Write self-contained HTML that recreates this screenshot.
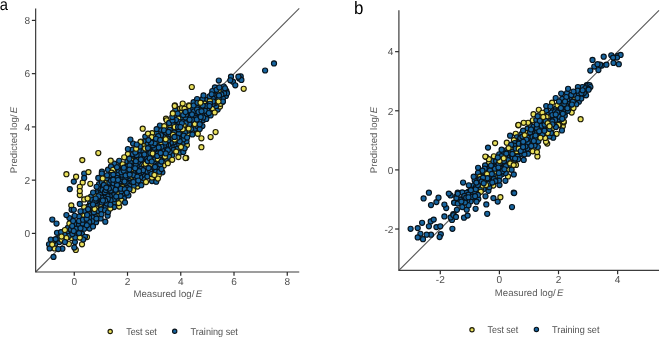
<!DOCTYPE html><html><head><meta charset="utf-8"><style>
html,body{margin:0;padding:0;background:#fff;width:660px;height:337px;overflow:hidden}
svg{display:block;will-change:transform} text{font-family:"Liberation Sans", sans-serif;fill:#505050;text-rendering:geometricPrecision} .tk{font-size:10.1px} .ti{font-size:9.6px;fill:#5a5a5a} .lg{font-size:9.9px}
.b{fill:#1765a0;stroke:#08121a;stroke-width:1.15} .y{fill:#e9e05c;stroke:#1e1c08;stroke-width:1.15}
</style></head><body>
<svg width="660" height="337" viewBox="0 0 660 337">
<rect width="660" height="337" fill="#fff"/>
<line x1="35.65" y1="272.01" x2="299.24" y2="8.42" stroke="#555" stroke-width="1.1"/>
<g>
<circle cx="152.0" cy="181.0" r="2.55" class="b"/>
<circle cx="203.9" cy="112.7" r="2.55" class="b"/>
<circle cx="172.0" cy="130.6" r="2.55" class="b"/>
<circle cx="178.4" cy="124.5" r="2.55" class="b"/>
<circle cx="186.9" cy="145.1" r="2.55" class="y"/>
<circle cx="99.1" cy="207.8" r="2.55" class="b"/>
<circle cx="115.7" cy="171.6" r="2.55" class="b"/>
<circle cx="90.3" cy="183.8" r="2.55" class="y"/>
<circle cx="142.5" cy="157.3" r="2.55" class="b"/>
<circle cx="108.7" cy="192.8" r="2.55" class="b"/>
<circle cx="134.8" cy="166.0" r="2.55" class="b"/>
<circle cx="194.5" cy="119.7" r="2.55" class="b"/>
<circle cx="71.6" cy="238.0" r="2.55" class="y"/>
<circle cx="90.4" cy="209.1" r="2.55" class="b"/>
<circle cx="90.1" cy="203.1" r="2.55" class="b"/>
<circle cx="215.0" cy="93.0" r="2.55" class="b"/>
<circle cx="110.8" cy="193.5" r="2.55" class="b"/>
<circle cx="55.3" cy="244.0" r="2.55" class="b"/>
<circle cx="215.1" cy="97.8" r="2.55" class="b"/>
<circle cx="139.7" cy="166.8" r="2.55" class="y"/>
<circle cx="121.2" cy="183.7" r="2.55" class="y"/>
<circle cx="119.2" cy="160.8" r="2.55" class="b"/>
<circle cx="137.4" cy="167.1" r="2.55" class="b"/>
<circle cx="97.0" cy="214.6" r="2.55" class="y"/>
<circle cx="163.3" cy="133.0" r="2.55" class="b"/>
<circle cx="88.1" cy="206.6" r="2.55" class="b"/>
<circle cx="104.1" cy="202.8" r="2.55" class="b"/>
<circle cx="95.1" cy="204.6" r="2.55" class="b"/>
<circle cx="208.2" cy="102.5" r="2.55" class="b"/>
<circle cx="141.8" cy="161.9" r="2.55" class="y"/>
<circle cx="130.3" cy="180.9" r="2.55" class="b"/>
<circle cx="223.8" cy="86.5" r="2.55" class="b"/>
<circle cx="138.3" cy="165.0" r="2.55" class="b"/>
<circle cx="82.0" cy="233.9" r="2.55" class="b"/>
<circle cx="179.7" cy="137.0" r="2.55" class="b"/>
<circle cx="172.1" cy="155.2" r="2.55" class="b"/>
<circle cx="202.4" cy="108.7" r="2.55" class="b"/>
<circle cx="172.4" cy="145.7" r="2.55" class="b"/>
<circle cx="224.7" cy="95.4" r="2.55" class="b"/>
<circle cx="128.0" cy="179.7" r="2.55" class="b"/>
<circle cx="91.8" cy="213.9" r="2.55" class="b"/>
<circle cx="220.9" cy="100.3" r="2.55" class="b"/>
<circle cx="157.1" cy="162.4" r="2.55" class="b"/>
<circle cx="175.8" cy="135.2" r="2.55" class="y"/>
<circle cx="133.2" cy="178.9" r="2.55" class="b"/>
<circle cx="90.5" cy="211.9" r="2.55" class="b"/>
<circle cx="209.8" cy="109.5" r="2.55" class="b"/>
<circle cx="203.3" cy="119.9" r="2.55" class="b"/>
<circle cx="181.7" cy="131.7" r="2.55" class="b"/>
<circle cx="96.7" cy="209.1" r="2.55" class="b"/>
<circle cx="156.5" cy="133.1" r="2.55" class="b"/>
<circle cx="98.0" cy="190.1" r="2.55" class="b"/>
<circle cx="132.4" cy="165.1" r="2.55" class="b"/>
<circle cx="91.0" cy="196.5" r="2.55" class="b"/>
<circle cx="176.7" cy="142.0" r="2.55" class="b"/>
<circle cx="153.4" cy="157.3" r="2.55" class="b"/>
<circle cx="141.5" cy="164.7" r="2.55" class="b"/>
<circle cx="146.0" cy="152.6" r="2.55" class="b"/>
<circle cx="146.0" cy="156.7" r="2.55" class="b"/>
<circle cx="175.4" cy="129.5" r="2.55" class="b"/>
<circle cx="140.4" cy="153.3" r="2.55" class="b"/>
<circle cx="84.2" cy="207.3" r="2.55" class="y"/>
<circle cx="103.1" cy="193.9" r="2.55" class="b"/>
<circle cx="166.6" cy="159.3" r="2.55" class="b"/>
<circle cx="201.4" cy="138.3" r="2.55" class="y"/>
<circle cx="174.9" cy="105.4" r="2.55" class="y"/>
<circle cx="108.0" cy="169.7" r="2.55" class="b"/>
<circle cx="204.3" cy="102.7" r="2.55" class="y"/>
<circle cx="98.6" cy="198.7" r="2.55" class="b"/>
<circle cx="62.4" cy="248.7" r="2.55" class="b"/>
<circle cx="176.5" cy="122.6" r="2.55" class="b"/>
<circle cx="216.8" cy="94.8" r="2.55" class="y"/>
<circle cx="222.4" cy="90.7" r="2.55" class="b"/>
<circle cx="188.1" cy="133.6" r="2.55" class="y"/>
<circle cx="217.7" cy="109.6" r="2.55" class="b"/>
<circle cx="188.9" cy="105.3" r="2.55" class="y"/>
<circle cx="206.9" cy="99.9" r="2.55" class="b"/>
<circle cx="180.0" cy="108.7" r="2.55" class="y"/>
<circle cx="175.9" cy="116.8" r="2.55" class="b"/>
<circle cx="148.1" cy="150.9" r="2.55" class="b"/>
<circle cx="187.9" cy="122.3" r="2.55" class="b"/>
<circle cx="67.2" cy="233.1" r="2.55" class="b"/>
<circle cx="79.8" cy="195.0" r="2.55" class="y"/>
<circle cx="158.9" cy="143.2" r="2.55" class="b"/>
<circle cx="144.0" cy="165.8" r="2.55" class="y"/>
<circle cx="147.3" cy="165.6" r="2.55" class="b"/>
<circle cx="226.3" cy="90.9" r="2.55" class="b"/>
<circle cx="240.7" cy="76.3" r="2.55" class="b"/>
<circle cx="59.4" cy="242.0" r="2.55" class="b"/>
<circle cx="187.5" cy="130.7" r="2.55" class="b"/>
<circle cx="92.4" cy="200.0" r="2.55" class="b"/>
<circle cx="153.0" cy="165.1" r="2.55" class="b"/>
<circle cx="58.9" cy="238.3" r="2.55" class="b"/>
<circle cx="206.0" cy="113.4" r="2.55" class="y"/>
<circle cx="134.3" cy="157.6" r="2.55" class="b"/>
<circle cx="189.9" cy="110.7" r="2.55" class="b"/>
<circle cx="207.8" cy="108.4" r="2.55" class="y"/>
<circle cx="210.1" cy="98.6" r="2.55" class="b"/>
<circle cx="144.8" cy="172.8" r="2.55" class="b"/>
<circle cx="79.8" cy="203.9" r="2.55" class="b"/>
<circle cx="160.5" cy="129.6" r="2.55" class="b"/>
<circle cx="124.8" cy="183.5" r="2.55" class="b"/>
<circle cx="96.3" cy="206.4" r="2.55" class="y"/>
<circle cx="67.8" cy="227.9" r="2.55" class="b"/>
<circle cx="105.4" cy="194.5" r="2.55" class="b"/>
<circle cx="142.0" cy="180.9" r="2.55" class="b"/>
<circle cx="191.5" cy="125.9" r="2.55" class="b"/>
<circle cx="96.1" cy="222.2" r="2.55" class="b"/>
<circle cx="170.8" cy="137.6" r="2.55" class="b"/>
<circle cx="213.1" cy="107.0" r="2.55" class="y"/>
<circle cx="162.9" cy="138.3" r="2.55" class="b"/>
<circle cx="154.8" cy="154.2" r="2.55" class="y"/>
<circle cx="225.9" cy="95.9" r="2.55" class="b"/>
<circle cx="178.5" cy="118.7" r="2.55" class="y"/>
<circle cx="133.1" cy="143.5" r="2.55" class="b"/>
<circle cx="100.0" cy="188.0" r="2.55" class="b"/>
<circle cx="137.5" cy="186.5" r="2.55" class="y"/>
<circle cx="153.4" cy="140.3" r="2.55" class="b"/>
<circle cx="76.1" cy="176.7" r="2.55" class="y"/>
<circle cx="69.1" cy="235.8" r="2.55" class="b"/>
<circle cx="114.3" cy="163.7" r="2.55" class="b"/>
<circle cx="197.0" cy="131.8" r="2.55" class="y"/>
<circle cx="183.6" cy="124.9" r="2.55" class="y"/>
<circle cx="84.2" cy="228.7" r="2.55" class="b"/>
<circle cx="99.0" cy="184.2" r="2.55" class="b"/>
<circle cx="143.5" cy="177.9" r="2.55" class="b"/>
<circle cx="135.6" cy="174.6" r="2.55" class="b"/>
<circle cx="184.3" cy="127.6" r="2.55" class="b"/>
<circle cx="57.0" cy="232.8" r="2.55" class="b"/>
<circle cx="142.7" cy="174.8" r="2.55" class="b"/>
<circle cx="144.2" cy="141.3" r="2.55" class="b"/>
<circle cx="169.0" cy="156.7" r="2.55" class="b"/>
<circle cx="49.0" cy="244.3" r="2.55" class="b"/>
<circle cx="204.7" cy="107.3" r="2.55" class="b"/>
<circle cx="108.0" cy="190.7" r="2.55" class="b"/>
<circle cx="176.3" cy="125.4" r="2.55" class="b"/>
<circle cx="120.2" cy="186.2" r="2.55" class="b"/>
<circle cx="148.8" cy="156.0" r="2.55" class="b"/>
<circle cx="214.1" cy="95.5" r="2.55" class="b"/>
<circle cx="199.5" cy="106.0" r="2.55" class="b"/>
<circle cx="92.1" cy="210.4" r="2.55" class="b"/>
<circle cx="171.9" cy="128.0" r="2.55" class="b"/>
<circle cx="202.4" cy="126.0" r="2.55" class="b"/>
<circle cx="109.8" cy="178.2" r="2.55" class="b"/>
<circle cx="175.3" cy="110.0" r="2.55" class="b"/>
<circle cx="118.1" cy="191.1" r="2.55" class="b"/>
<circle cx="186.2" cy="157.9" r="2.55" class="y"/>
<circle cx="116.7" cy="200.1" r="2.55" class="b"/>
<circle cx="157.0" cy="145.3" r="2.55" class="b"/>
<circle cx="204.9" cy="103.6" r="2.55" class="y"/>
<circle cx="127.9" cy="153.9" r="2.55" class="y"/>
<circle cx="98.3" cy="153.0" r="2.55" class="y"/>
<circle cx="162.8" cy="153.0" r="2.55" class="b"/>
<circle cx="163.8" cy="165.4" r="2.55" class="y"/>
<circle cx="220.0" cy="106.6" r="2.55" class="y"/>
<circle cx="166.0" cy="118.7" r="2.55" class="y"/>
<circle cx="220.9" cy="97.2" r="2.55" class="y"/>
<circle cx="107.6" cy="215.7" r="2.55" class="b"/>
<circle cx="82.7" cy="182.4" r="2.55" class="y"/>
<circle cx="205.4" cy="115.8" r="2.55" class="b"/>
<circle cx="207.3" cy="110.6" r="2.55" class="b"/>
<circle cx="172.6" cy="124.3" r="2.55" class="b"/>
<circle cx="214.9" cy="87.4" r="2.55" class="b"/>
<circle cx="172.2" cy="159.8" r="2.55" class="y"/>
<circle cx="107.5" cy="201.3" r="2.55" class="b"/>
<circle cx="151.5" cy="156.2" r="2.55" class="b"/>
<circle cx="149.0" cy="162.7" r="2.55" class="b"/>
<circle cx="53.5" cy="256.9" r="2.55" class="b"/>
<circle cx="227.0" cy="93.2" r="2.55" class="b"/>
<circle cx="133.4" cy="163.1" r="2.55" class="b"/>
<circle cx="193.1" cy="117.6" r="2.55" class="b"/>
<circle cx="97.6" cy="193.3" r="2.55" class="b"/>
<circle cx="197.3" cy="121.8" r="2.55" class="b"/>
<circle cx="140.1" cy="150.4" r="2.55" class="b"/>
<circle cx="179.3" cy="152.9" r="2.55" class="b"/>
<circle cx="89.5" cy="228.6" r="2.55" class="b"/>
<circle cx="176.5" cy="145.8" r="2.55" class="b"/>
<circle cx="215.6" cy="132.0" r="2.55" class="y"/>
<circle cx="165.1" cy="135.6" r="2.55" class="b"/>
<circle cx="243.7" cy="88.8" r="2.55" class="y"/>
<circle cx="216.3" cy="99.8" r="2.55" class="b"/>
<circle cx="140.9" cy="141.6" r="2.55" class="y"/>
<circle cx="102.1" cy="207.0" r="2.55" class="b"/>
<circle cx="199.3" cy="114.2" r="2.55" class="b"/>
<circle cx="202.0" cy="113.9" r="2.55" class="b"/>
<circle cx="135.7" cy="170.5" r="2.55" class="y"/>
<circle cx="89.6" cy="214.1" r="2.55" class="b"/>
<circle cx="201.4" cy="147.2" r="2.55" class="y"/>
<circle cx="147.4" cy="176.6" r="2.55" class="b"/>
<circle cx="158.1" cy="151.0" r="2.55" class="b"/>
<circle cx="113.0" cy="191.9" r="2.55" class="b"/>
<circle cx="115.8" cy="193.8" r="2.55" class="b"/>
<circle cx="136.4" cy="158.9" r="2.55" class="b"/>
<circle cx="87.6" cy="211.7" r="2.55" class="y"/>
<circle cx="160.3" cy="150.0" r="2.55" class="b"/>
<circle cx="172.0" cy="140.6" r="2.55" class="b"/>
<circle cx="127.4" cy="161.5" r="2.55" class="b"/>
<circle cx="113.7" cy="188.5" r="2.55" class="b"/>
<circle cx="212.9" cy="108.5" r="2.55" class="y"/>
<circle cx="162.5" cy="158.7" r="2.55" class="b"/>
<circle cx="130.2" cy="172.4" r="2.55" class="b"/>
<circle cx="121.6" cy="169.1" r="2.55" class="b"/>
<circle cx="54.5" cy="248.4" r="2.55" class="y"/>
<circle cx="185.8" cy="129.3" r="2.55" class="b"/>
<circle cx="147.5" cy="144.1" r="2.55" class="b"/>
<circle cx="274.0" cy="63.4" r="2.55" class="b"/>
<circle cx="156.8" cy="148.7" r="2.55" class="b"/>
<circle cx="145.3" cy="136.6" r="2.55" class="b"/>
<circle cx="195.1" cy="128.8" r="2.55" class="b"/>
<circle cx="212.3" cy="91.0" r="2.55" class="b"/>
<circle cx="138.2" cy="161.9" r="2.55" class="b"/>
<circle cx="125.1" cy="185.9" r="2.55" class="y"/>
<circle cx="94.8" cy="215.8" r="2.55" class="b"/>
<circle cx="167.8" cy="134.2" r="2.55" class="b"/>
<circle cx="85.0" cy="211.3" r="2.55" class="b"/>
<circle cx="216.2" cy="106.0" r="2.55" class="b"/>
<circle cx="147.1" cy="154.4" r="2.55" class="b"/>
<circle cx="204.9" cy="110.7" r="2.55" class="b"/>
<circle cx="119.2" cy="206.6" r="2.55" class="y"/>
<circle cx="87.0" cy="237.1" r="2.55" class="y"/>
<circle cx="173.0" cy="113.1" r="2.55" class="y"/>
<circle cx="125.3" cy="172.8" r="2.55" class="y"/>
<circle cx="113.6" cy="195.1" r="2.55" class="b"/>
<circle cx="100.2" cy="204.6" r="2.55" class="y"/>
<circle cx="97.3" cy="203.6" r="2.55" class="b"/>
<circle cx="186.0" cy="126.1" r="2.55" class="b"/>
<circle cx="182.0" cy="108.1" r="2.55" class="y"/>
<circle cx="153.1" cy="168.9" r="2.55" class="b"/>
<circle cx="210.6" cy="137.0" r="2.55" class="y"/>
<circle cx="168.8" cy="136.4" r="2.55" class="b"/>
<circle cx="110.6" cy="190.4" r="2.55" class="b"/>
<circle cx="79.8" cy="186.8" r="2.55" class="y"/>
<circle cx="189.2" cy="106.0" r="2.55" class="y"/>
<circle cx="64.4" cy="234.4" r="2.55" class="b"/>
<circle cx="152.8" cy="159.4" r="2.55" class="b"/>
<circle cx="192.4" cy="134.4" r="2.55" class="b"/>
<circle cx="191.9" cy="123.0" r="2.55" class="b"/>
<circle cx="217.2" cy="97.0" r="2.55" class="b"/>
<circle cx="118.3" cy="166.5" r="2.55" class="b"/>
<circle cx="120.3" cy="177.3" r="2.55" class="b"/>
<circle cx="160.2" cy="159.2" r="2.55" class="b"/>
<circle cx="122.2" cy="181.3" r="2.55" class="b"/>
<circle cx="166.0" cy="132.6" r="2.55" class="b"/>
<circle cx="111.0" cy="166.4" r="2.55" class="b"/>
<circle cx="132.5" cy="149.6" r="2.55" class="b"/>
<circle cx="215.1" cy="103.1" r="2.55" class="b"/>
<circle cx="224.2" cy="93.3" r="2.55" class="b"/>
<circle cx="150.3" cy="149.8" r="2.55" class="b"/>
<circle cx="185.5" cy="158.0" r="2.55" class="y"/>
<circle cx="84.2" cy="173.5" r="2.55" class="b"/>
<circle cx="75.8" cy="249.9" r="2.55" class="y"/>
<circle cx="193.3" cy="109.1" r="2.55" class="b"/>
<circle cx="115.7" cy="183.3" r="2.55" class="b"/>
<circle cx="222.7" cy="101.8" r="2.55" class="b"/>
<circle cx="239.2" cy="78.5" r="2.55" class="b"/>
<circle cx="150.4" cy="146.5" r="2.55" class="b"/>
<circle cx="212.8" cy="98.6" r="2.55" class="b"/>
<circle cx="187.8" cy="117.2" r="2.55" class="b"/>
<circle cx="162.4" cy="172.3" r="2.55" class="b"/>
<circle cx="154.4" cy="161.9" r="2.55" class="b"/>
<circle cx="150.4" cy="152.9" r="2.55" class="b"/>
<circle cx="109.9" cy="196.2" r="2.55" class="b"/>
<circle cx="154.1" cy="150.9" r="2.55" class="b"/>
<circle cx="129.6" cy="183.4" r="2.55" class="b"/>
<circle cx="149.6" cy="165.5" r="2.55" class="b"/>
<circle cx="188.8" cy="115.0" r="2.55" class="b"/>
<circle cx="75.3" cy="233.6" r="2.55" class="b"/>
<circle cx="95.6" cy="195.7" r="2.55" class="y"/>
<circle cx="98.7" cy="201.6" r="2.55" class="b"/>
<circle cx="144.3" cy="161.1" r="2.55" class="b"/>
<circle cx="241.4" cy="79.9" r="2.55" class="b"/>
<circle cx="102.8" cy="187.2" r="2.55" class="b"/>
<circle cx="135.7" cy="164.0" r="2.55" class="b"/>
<circle cx="155.1" cy="159.1" r="2.55" class="b"/>
<circle cx="98.5" cy="211.1" r="2.55" class="b"/>
<circle cx="122.7" cy="164.3" r="2.55" class="y"/>
<circle cx="136.6" cy="183.4" r="2.55" class="b"/>
<circle cx="105.3" cy="221.7" r="2.55" class="b"/>
<circle cx="183.3" cy="152.0" r="2.55" class="b"/>
<circle cx="190.6" cy="117.4" r="2.55" class="b"/>
<circle cx="119.0" cy="184.1" r="2.55" class="b"/>
<circle cx="114.3" cy="202.6" r="2.55" class="b"/>
<circle cx="129.6" cy="178.0" r="2.55" class="b"/>
<circle cx="131.6" cy="176.5" r="2.55" class="y"/>
<circle cx="180.9" cy="134.0" r="2.55" class="b"/>
<circle cx="106.8" cy="178.5" r="2.55" class="b"/>
<circle cx="194.5" cy="114.7" r="2.55" class="b"/>
<circle cx="218.8" cy="80.6" r="2.55" class="b"/>
<circle cx="152.0" cy="177.4" r="2.55" class="y"/>
<circle cx="69.8" cy="189.1" r="2.55" class="b"/>
<circle cx="210.6" cy="115.5" r="2.55" class="b"/>
<circle cx="191.2" cy="129.1" r="2.55" class="b"/>
<circle cx="118.8" cy="170.6" r="2.55" class="b"/>
<circle cx="204.2" cy="103.4" r="2.55" class="y"/>
<circle cx="177.6" cy="148.6" r="2.55" class="b"/>
<circle cx="196.8" cy="106.2" r="2.55" class="b"/>
<circle cx="183.1" cy="142.7" r="2.55" class="b"/>
<circle cx="184.9" cy="132.5" r="2.55" class="b"/>
<circle cx="101.0" cy="192.7" r="2.55" class="b"/>
<circle cx="52.3" cy="219.5" r="2.55" class="b"/>
<circle cx="218.9" cy="91.6" r="2.55" class="y"/>
<circle cx="180.5" cy="115.8" r="2.55" class="b"/>
<circle cx="119.3" cy="193.6" r="2.55" class="y"/>
<circle cx="157.3" cy="165.5" r="2.55" class="b"/>
<circle cx="177.1" cy="132.0" r="2.55" class="y"/>
<circle cx="206.3" cy="118.9" r="2.55" class="b"/>
<circle cx="158.2" cy="168.8" r="2.55" class="b"/>
<circle cx="53.4" cy="241.4" r="2.55" class="b"/>
<circle cx="161.0" cy="135.3" r="2.55" class="b"/>
<circle cx="114.6" cy="186.3" r="2.55" class="b"/>
<circle cx="123.9" cy="198.2" r="2.55" class="b"/>
<circle cx="152.1" cy="133.1" r="2.55" class="y"/>
<circle cx="141.3" cy="185.2" r="2.55" class="b"/>
<circle cx="50.8" cy="239.5" r="2.55" class="b"/>
<circle cx="79.0" cy="216.5" r="2.55" class="b"/>
<circle cx="196.7" cy="115.0" r="2.55" class="b"/>
<circle cx="56.5" cy="223.5" r="2.55" class="b"/>
<circle cx="76.0" cy="228.7" r="2.55" class="b"/>
<circle cx="108.8" cy="185.3" r="2.55" class="b"/>
<circle cx="174.1" cy="132.5" r="2.55" class="b"/>
<circle cx="121.5" cy="200.6" r="2.55" class="y"/>
<circle cx="61.0" cy="232.1" r="2.55" class="b"/>
<circle cx="178.8" cy="133.7" r="2.55" class="b"/>
<circle cx="199.4" cy="109.7" r="2.55" class="b"/>
<circle cx="107.5" cy="196.1" r="2.55" class="b"/>
<circle cx="159.9" cy="125.5" r="2.55" class="b"/>
<circle cx="174.7" cy="127.1" r="2.55" class="y"/>
<circle cx="148.0" cy="133.6" r="2.55" class="y"/>
<circle cx="93.9" cy="212.2" r="2.55" class="b"/>
<circle cx="218.3" cy="102.1" r="2.55" class="y"/>
<circle cx="92.2" cy="217.4" r="2.55" class="b"/>
<circle cx="200.7" cy="102.5" r="2.55" class="y"/>
<circle cx="165.5" cy="149.1" r="2.55" class="b"/>
<circle cx="128.4" cy="195.4" r="2.55" class="b"/>
<circle cx="158.8" cy="174.9" r="2.55" class="y"/>
<circle cx="132.9" cy="154.3" r="2.55" class="b"/>
<circle cx="119.9" cy="181.3" r="2.55" class="b"/>
<circle cx="169.3" cy="126.2" r="2.55" class="y"/>
<circle cx="162.6" cy="155.5" r="2.55" class="b"/>
<circle cx="198.3" cy="116.8" r="2.55" class="b"/>
<circle cx="49.6" cy="248.4" r="2.55" class="b"/>
<circle cx="167.8" cy="163.2" r="2.55" class="y"/>
<circle cx="74.9" cy="223.8" r="2.55" class="b"/>
<circle cx="181.2" cy="120.1" r="2.55" class="b"/>
<circle cx="127.8" cy="176.1" r="2.55" class="b"/>
<circle cx="144.4" cy="158.6" r="2.55" class="b"/>
<circle cx="141.5" cy="172.2" r="2.55" class="b"/>
<circle cx="92.9" cy="207.1" r="2.55" class="b"/>
<circle cx="195.4" cy="117.6" r="2.55" class="b"/>
<circle cx="66.4" cy="238.0" r="2.55" class="y"/>
<circle cx="154.4" cy="147.8" r="2.55" class="b"/>
<circle cx="97.0" cy="200.2" r="2.55" class="b"/>
<circle cx="126.6" cy="166.8" r="2.55" class="b"/>
<circle cx="122.3" cy="179.2" r="2.55" class="b"/>
<circle cx="100.7" cy="200.1" r="2.55" class="b"/>
<circle cx="167.1" cy="129.1" r="2.55" class="y"/>
<circle cx="69.4" cy="223.5" r="2.55" class="y"/>
<circle cx="131.7" cy="160.4" r="2.55" class="y"/>
<circle cx="93.1" cy="192.5" r="2.55" class="b"/>
<circle cx="118.7" cy="203.1" r="2.55" class="y"/>
<circle cx="170.2" cy="134.1" r="2.55" class="b"/>
<circle cx="114.0" cy="207.1" r="2.55" class="b"/>
<circle cx="206.7" cy="105.9" r="2.55" class="b"/>
<circle cx="160.3" cy="164.5" r="2.55" class="b"/>
<circle cx="102.5" cy="190.0" r="2.55" class="b"/>
<circle cx="216.6" cy="89.8" r="2.55" class="b"/>
<circle cx="122.9" cy="177.0" r="2.55" class="b"/>
<circle cx="151.2" cy="163.7" r="2.55" class="y"/>
<circle cx="168.0" cy="139.0" r="2.55" class="b"/>
<circle cx="74.9" cy="242.0" r="2.55" class="b"/>
<circle cx="184.7" cy="148.3" r="2.55" class="b"/>
<circle cx="105.8" cy="206.7" r="2.55" class="b"/>
<circle cx="143.6" cy="146.1" r="2.55" class="y"/>
<circle cx="153.0" cy="145.3" r="2.55" class="b"/>
<circle cx="127.7" cy="173.0" r="2.55" class="b"/>
<circle cx="265.1" cy="70.5" r="2.55" class="b"/>
<circle cx="212.8" cy="104.0" r="2.55" class="b"/>
<circle cx="118.0" cy="175.0" r="2.55" class="b"/>
<circle cx="126.6" cy="170.8" r="2.55" class="b"/>
<circle cx="146.0" cy="182.0" r="2.55" class="y"/>
<circle cx="123.0" cy="193.5" r="2.55" class="b"/>
<circle cx="114.5" cy="177.6" r="2.55" class="b"/>
<circle cx="111.3" cy="184.5" r="2.55" class="b"/>
<circle cx="199.3" cy="120.0" r="2.55" class="b"/>
<circle cx="222.9" cy="98.5" r="2.55" class="b"/>
<circle cx="196.1" cy="112.8" r="2.55" class="b"/>
<circle cx="152.7" cy="153.5" r="2.55" class="y"/>
<circle cx="125.0" cy="202.5" r="2.55" class="b"/>
<circle cx="146.7" cy="158.9" r="2.55" class="b"/>
<circle cx="101.8" cy="202.4" r="2.55" class="b"/>
<circle cx="138.9" cy="157.7" r="2.55" class="y"/>
<circle cx="75.3" cy="237.4" r="2.55" class="b"/>
<circle cx="156.9" cy="141.6" r="2.55" class="y"/>
<circle cx="101.1" cy="209.4" r="2.55" class="b"/>
<circle cx="82.0" cy="244.3" r="2.55" class="y"/>
<circle cx="105.9" cy="183.2" r="2.55" class="y"/>
<circle cx="133.4" cy="172.5" r="2.55" class="b"/>
<circle cx="92.2" cy="221.3" r="2.55" class="b"/>
<circle cx="127.3" cy="184.1" r="2.55" class="b"/>
<circle cx="113.9" cy="199.2" r="2.55" class="b"/>
<circle cx="182.5" cy="117.7" r="2.55" class="b"/>
<circle cx="127.9" cy="149.0" r="2.55" class="b"/>
<circle cx="197.3" cy="125.9" r="2.55" class="b"/>
<circle cx="179.3" cy="144.5" r="2.55" class="b"/>
<circle cx="96.6" cy="186.8" r="2.55" class="b"/>
<circle cx="157.7" cy="153.4" r="2.55" class="b"/>
<circle cx="133.6" cy="186.2" r="2.55" class="b"/>
<circle cx="113.1" cy="169.8" r="2.55" class="y"/>
<circle cx="231.0" cy="76.7" r="2.55" class="b"/>
<circle cx="173.7" cy="142.3" r="2.55" class="b"/>
<circle cx="178.3" cy="118.5" r="2.55" class="y"/>
<circle cx="129.3" cy="186.1" r="2.55" class="b"/>
<circle cx="183.7" cy="121.6" r="2.55" class="b"/>
<circle cx="140.3" cy="177.2" r="2.55" class="b"/>
<circle cx="101.9" cy="182.4" r="2.55" class="b"/>
<circle cx="166.7" cy="120.3" r="2.55" class="y"/>
<circle cx="151.7" cy="137.2" r="2.55" class="y"/>
<circle cx="79.0" cy="224.2" r="2.55" class="b"/>
<circle cx="220.6" cy="103.8" r="2.55" class="y"/>
<circle cx="111.6" cy="172.6" r="2.55" class="y"/>
<circle cx="122.2" cy="174.7" r="2.55" class="b"/>
<circle cx="131.7" cy="169.2" r="2.55" class="y"/>
<circle cx="133.2" cy="190.3" r="2.55" class="y"/>
<circle cx="71.3" cy="205.4" r="2.55" class="y"/>
<circle cx="122.5" cy="187.1" r="2.55" class="y"/>
<circle cx="163.2" cy="148.0" r="2.55" class="b"/>
<circle cx="158.2" cy="136.2" r="2.55" class="b"/>
<circle cx="186.5" cy="141.3" r="2.55" class="b"/>
<circle cx="141.3" cy="168.7" r="2.55" class="b"/>
<circle cx="133.4" cy="182.0" r="2.55" class="b"/>
<circle cx="85.0" cy="236.8" r="2.55" class="b"/>
<circle cx="178.9" cy="122.1" r="2.55" class="b"/>
<circle cx="80.5" cy="211.3" r="2.55" class="b"/>
<circle cx="135.9" cy="161.2" r="2.55" class="b"/>
<circle cx="156.0" cy="171.6" r="2.55" class="b"/>
<circle cx="221.4" cy="94.4" r="2.55" class="b"/>
<circle cx="170.8" cy="143.0" r="2.55" class="b"/>
<circle cx="110.7" cy="160.7" r="2.55" class="y"/>
<circle cx="183.5" cy="139.2" r="2.55" class="b"/>
<circle cx="100.6" cy="218.4" r="2.55" class="b"/>
<circle cx="52.2" cy="244.4" r="2.55" class="y"/>
<circle cx="179.7" cy="141.2" r="2.55" class="b"/>
<circle cx="189.4" cy="124.2" r="2.55" class="b"/>
<circle cx="74.6" cy="215.8" r="2.55" class="b"/>
<circle cx="182.7" cy="103.6" r="2.55" class="y"/>
<circle cx="145.9" cy="167.8" r="2.55" class="b"/>
<circle cx="213.1" cy="101.5" r="2.55" class="b"/>
<circle cx="125.4" cy="178.4" r="2.55" class="b"/>
<circle cx="124.5" cy="181.4" r="2.55" class="b"/>
<circle cx="138.8" cy="173.4" r="2.55" class="b"/>
<circle cx="154.8" cy="143.2" r="2.55" class="b"/>
<circle cx="83.2" cy="239.5" r="2.55" class="b"/>
<circle cx="98.3" cy="177.9" r="2.55" class="b"/>
<circle cx="164.3" cy="126.2" r="2.55" class="y"/>
<circle cx="111.9" cy="187.4" r="2.55" class="b"/>
<circle cx="139.1" cy="155.3" r="2.55" class="b"/>
<circle cx="169.7" cy="129.6" r="2.55" class="b"/>
<circle cx="218.7" cy="98.7" r="2.55" class="b"/>
<circle cx="147.3" cy="171.4" r="2.55" class="b"/>
<circle cx="145.6" cy="163.8" r="2.55" class="y"/>
<circle cx="71.6" cy="209.8" r="2.55" class="b"/>
<circle cx="124.2" cy="157.3" r="2.55" class="y"/>
<circle cx="159.3" cy="171.7" r="2.55" class="b"/>
<circle cx="156.2" cy="181.7" r="2.55" class="b"/>
<circle cx="160.0" cy="145.2" r="2.55" class="b"/>
<circle cx="191.8" cy="87.0" r="2.55" class="y"/>
<circle cx="61.7" cy="239.7" r="2.55" class="y"/>
<circle cx="109.4" cy="182.5" r="2.55" class="b"/>
<circle cx="104.9" cy="192.2" r="2.55" class="b"/>
<circle cx="160.4" cy="155.0" r="2.55" class="b"/>
<circle cx="214.7" cy="112.5" r="2.55" class="y"/>
<circle cx="157.8" cy="158.9" r="2.55" class="y"/>
<circle cx="233.0" cy="81.7" r="2.55" class="b"/>
<circle cx="58.3" cy="249.0" r="2.55" class="b"/>
<circle cx="222.9" cy="101.6" r="2.55" class="b"/>
<circle cx="100.0" cy="194.8" r="2.55" class="b"/>
<circle cx="117.8" cy="187.1" r="2.55" class="b"/>
<circle cx="147.7" cy="160.9" r="2.55" class="b"/>
<circle cx="183.7" cy="135.6" r="2.55" class="b"/>
<circle cx="140.5" cy="142.0" r="2.55" class="y"/>
<circle cx="73.8" cy="181.6" r="2.55" class="b"/>
<circle cx="180.7" cy="112.9" r="2.55" class="y"/>
<circle cx="193.6" cy="102.2" r="2.55" class="b"/>
<circle cx="86.3" cy="221.2" r="2.55" class="b"/>
<circle cx="96.4" cy="218.6" r="2.55" class="b"/>
<circle cx="169.5" cy="147.2" r="2.55" class="b"/>
<circle cx="187.1" cy="119.9" r="2.55" class="y"/>
<circle cx="84.2" cy="177.9" r="2.55" class="b"/>
<circle cx="199.7" cy="129.1" r="2.55" class="b"/>
<circle cx="88.5" cy="172.1" r="2.55" class="y"/>
<circle cx="164.0" cy="130.3" r="2.55" class="b"/>
<circle cx="139.9" cy="146.5" r="2.55" class="b"/>
<circle cx="194.8" cy="123.9" r="2.55" class="y"/>
<circle cx="209.9" cy="101.0" r="2.55" class="y"/>
<circle cx="210.0" cy="103.8" r="2.55" class="b"/>
<circle cx="167.9" cy="141.1" r="2.55" class="b"/>
<circle cx="82.7" cy="223.5" r="2.55" class="b"/>
<circle cx="121.4" cy="172.2" r="2.55" class="b"/>
<circle cx="156.6" cy="129.1" r="2.55" class="b"/>
<circle cx="121.3" cy="191.2" r="2.55" class="b"/>
<circle cx="149.7" cy="158.2" r="2.55" class="b"/>
<circle cx="110.6" cy="200.2" r="2.55" class="b"/>
<circle cx="130.4" cy="139.5" r="2.55" class="b"/>
<circle cx="202.5" cy="99.0" r="2.55" class="b"/>
<circle cx="94.6" cy="201.8" r="2.55" class="b"/>
<circle cx="104.4" cy="197.8" r="2.55" class="b"/>
<circle cx="209.6" cy="96.3" r="2.55" class="b"/>
<circle cx="155.0" cy="166.9" r="2.55" class="b"/>
<circle cx="173.4" cy="150.0" r="2.55" class="b"/>
<circle cx="133.3" cy="175.1" r="2.55" class="b"/>
<circle cx="106.8" cy="203.6" r="2.55" class="b"/>
<circle cx="68.9" cy="244.0" r="2.55" class="y"/>
<circle cx="79.0" cy="221.0" r="2.55" class="b"/>
<circle cx="185.5" cy="117.6" r="2.55" class="b"/>
<circle cx="72.4" cy="233.9" r="2.55" class="b"/>
<circle cx="107.8" cy="198.9" r="2.55" class="b"/>
<circle cx="89.0" cy="217.4" r="2.55" class="b"/>
<circle cx="69.4" cy="218.0" r="2.55" class="b"/>
<circle cx="199.7" cy="124.3" r="2.55" class="b"/>
<circle cx="162.4" cy="150.4" r="2.55" class="b"/>
<circle cx="111.1" cy="180.7" r="2.55" class="b"/>
<circle cx="66.4" cy="215.0" r="2.55" class="b"/>
<circle cx="90.5" cy="205.7" r="2.55" class="b"/>
<circle cx="79.8" cy="191.0" r="2.55" class="y"/>
<circle cx="137.3" cy="176.8" r="2.55" class="b"/>
<circle cx="172.8" cy="138.4" r="2.55" class="b"/>
<circle cx="101.4" cy="214.2" r="2.55" class="b"/>
<circle cx="165.0" cy="156.5" r="2.55" class="y"/>
<circle cx="168.2" cy="145.1" r="2.55" class="b"/>
<circle cx="203.2" cy="117.4" r="2.55" class="b"/>
<circle cx="193.7" cy="105.5" r="2.55" class="b"/>
<circle cx="151.7" cy="161.5" r="2.55" class="b"/>
<circle cx="130.5" cy="162.7" r="2.55" class="b"/>
<circle cx="150.3" cy="171.2" r="2.55" class="b"/>
<circle cx="219.4" cy="87.4" r="2.55" class="b"/>
<circle cx="166.0" cy="147.0" r="2.55" class="b"/>
<circle cx="143.5" cy="151.5" r="2.55" class="b"/>
<circle cx="110.0" cy="175.2" r="2.55" class="b"/>
<circle cx="140.9" cy="159.4" r="2.55" class="b"/>
<circle cx="120.9" cy="188.7" r="2.55" class="b"/>
<circle cx="80.5" cy="228.2" r="2.55" class="b"/>
<circle cx="113.5" cy="183.2" r="2.55" class="b"/>
<circle cx="238.4" cy="76.7" r="2.55" class="b"/>
<circle cx="193.9" cy="111.6" r="2.55" class="b"/>
<circle cx="174.7" cy="106.0" r="2.55" class="y"/>
<circle cx="235.3" cy="85.3" r="2.55" class="b"/>
<circle cx="184.5" cy="108.7" r="2.55" class="y"/>
<circle cx="127.2" cy="187.8" r="2.55" class="b"/>
<circle cx="176.2" cy="151.6" r="2.55" class="y"/>
<circle cx="101.4" cy="197.7" r="2.55" class="b"/>
<circle cx="197.1" cy="109.5" r="2.55" class="b"/>
<circle cx="84.2" cy="215.8" r="2.55" class="y"/>
<circle cx="166.0" cy="144.7" r="2.55" class="b"/>
<circle cx="88.1" cy="209.2" r="2.55" class="b"/>
<circle cx="136.6" cy="154.9" r="2.55" class="b"/>
<circle cx="186.1" cy="114.6" r="2.55" class="b"/>
<circle cx="83.0" cy="219.7" r="2.55" class="b"/>
<circle cx="218.5" cy="101.6" r="2.55" class="y"/>
<circle cx="79.8" cy="237.6" r="2.55" class="y"/>
<circle cx="164.0" cy="145.4" r="2.55" class="b"/>
<circle cx="178.7" cy="129.3" r="2.55" class="b"/>
<circle cx="163.8" cy="140.8" r="2.55" class="b"/>
<circle cx="173.0" cy="134.7" r="2.55" class="y"/>
<circle cx="169.7" cy="151.9" r="2.55" class="b"/>
<circle cx="192.1" cy="119.7" r="2.55" class="b"/>
<circle cx="105.8" cy="190.0" r="2.55" class="b"/>
<circle cx="123.7" cy="170.7" r="2.55" class="b"/>
<circle cx="84.2" cy="199.4" r="2.55" class="y"/>
<circle cx="185.6" cy="123.2" r="2.55" class="b"/>
<circle cx="117.0" cy="184.9" r="2.55" class="b"/>
<circle cx="74.3" cy="247.5" r="2.55" class="b"/>
<circle cx="64.9" cy="242.0" r="2.55" class="b"/>
<circle cx="219.0" cy="95.4" r="2.55" class="b"/>
<circle cx="161.4" cy="142.6" r="2.55" class="y"/>
<circle cx="157.9" cy="178.5" r="2.55" class="y"/>
<circle cx="202.7" cy="105.5" r="2.55" class="b"/>
<circle cx="157.2" cy="155.9" r="2.55" class="b"/>
<circle cx="125.6" cy="175.4" r="2.55" class="b"/>
<circle cx="197.8" cy="133.8" r="2.55" class="y"/>
<circle cx="116.9" cy="177.9" r="2.55" class="b"/>
<circle cx="115.7" cy="189.7" r="2.55" class="b"/>
<circle cx="113.3" cy="174.6" r="2.55" class="b"/>
<circle cx="103.8" cy="184.9" r="2.55" class="b"/>
<circle cx="156.0" cy="138.8" r="2.55" class="b"/>
<circle cx="129.4" cy="158.7" r="2.55" class="b"/>
<circle cx="178.4" cy="157.1" r="2.55" class="y"/>
<circle cx="151.1" cy="142.6" r="2.55" class="b"/>
<circle cx="151.5" cy="174.0" r="2.55" class="b"/>
<circle cx="131.2" cy="167.1" r="2.55" class="b"/>
<circle cx="73.1" cy="221.0" r="2.55" class="b"/>
<circle cx="129.7" cy="174.6" r="2.55" class="b"/>
<circle cx="183.2" cy="115.0" r="2.55" class="b"/>
<circle cx="161.5" cy="161.5" r="2.55" class="b"/>
<circle cx="167.8" cy="150.3" r="2.55" class="b"/>
<circle cx="82.3" cy="160.1" r="2.55" class="y"/>
<circle cx="117.0" cy="167.3" r="2.55" class="b"/>
<circle cx="196.8" cy="119.4" r="2.55" class="b"/>
<circle cx="98.4" cy="196.3" r="2.55" class="b"/>
<circle cx="161.5" cy="146.8" r="2.55" class="b"/>
<circle cx="183.6" cy="125.6" r="2.55" class="y"/>
<circle cx="101.9" cy="171.7" r="2.55" class="b"/>
<circle cx="197.1" cy="99.0" r="2.55" class="b"/>
<circle cx="144.4" cy="154.4" r="2.55" class="b"/>
<circle cx="94.6" cy="209.0" r="2.55" class="y"/>
<circle cx="124.8" cy="189.2" r="2.55" class="b"/>
<circle cx="120.5" cy="196.1" r="2.55" class="b"/>
<circle cx="225.0" cy="88.3" r="2.55" class="b"/>
<circle cx="177.3" cy="137.7" r="2.55" class="b"/>
<circle cx="230.3" cy="80.3" r="2.55" class="b"/>
<circle cx="169.1" cy="122.9" r="2.55" class="b"/>
<circle cx="115.6" cy="180.5" r="2.55" class="b"/>
<circle cx="123.9" cy="167.7" r="2.55" class="b"/>
<circle cx="174.7" cy="139.5" r="2.55" class="y"/>
<circle cx="79.0" cy="233.1" r="2.55" class="b"/>
<circle cx="198.5" cy="112.0" r="2.55" class="b"/>
<circle cx="93.0" cy="226.4" r="2.55" class="b"/>
<circle cx="208.8" cy="113.1" r="2.55" class="b"/>
<circle cx="160.2" cy="140.0" r="2.55" class="b"/>
<circle cx="176.0" cy="120.0" r="2.55" class="b"/>
<circle cx="201.5" cy="111.2" r="2.55" class="b"/>
<circle cx="105.2" cy="200.6" r="2.55" class="b"/>
<circle cx="187.1" cy="137.5" r="2.55" class="b"/>
<circle cx="105.1" cy="210.3" r="2.55" class="b"/>
<circle cx="158.7" cy="147.4" r="2.55" class="b"/>
<circle cx="89.2" cy="221.9" r="2.55" class="b"/>
<circle cx="148.4" cy="140.1" r="2.55" class="b"/>
<circle cx="161.5" cy="169.0" r="2.55" class="b"/>
<circle cx="182.7" cy="129.2" r="2.55" class="y"/>
<circle cx="101.8" cy="173.5" r="2.55" class="b"/>
<circle cx="86.6" cy="218.7" r="2.55" class="b"/>
<circle cx="181.8" cy="123.3" r="2.55" class="b"/>
<circle cx="108.9" cy="188.5" r="2.55" class="b"/>
<circle cx="66.4" cy="174.2" r="2.55" class="y"/>
<circle cx="181.0" cy="147.0" r="2.55" class="y"/>
<circle cx="108.1" cy="212.1" r="2.55" class="b"/>
<circle cx="200.7" cy="117.0" r="2.55" class="b"/>
<circle cx="61.5" cy="236.5" r="2.55" class="y"/>
<circle cx="188.7" cy="128.6" r="2.55" class="y"/>
<circle cx="86.8" cy="225.2" r="2.55" class="b"/>
<circle cx="70.9" cy="229.4" r="2.55" class="b"/>
<circle cx="172.5" cy="120.4" r="2.55" class="b"/>
<circle cx="154.4" cy="174.9" r="2.55" class="y"/>
<circle cx="172.3" cy="116.9" r="2.55" class="b"/>
<circle cx="135.3" cy="152.6" r="2.55" class="b"/>
<circle cx="197.5" cy="102.8" r="2.55" class="b"/>
<circle cx="55.6" cy="239.1" r="2.55" class="b"/>
<circle cx="113.2" cy="179.7" r="2.55" class="b"/>
<circle cx="185.5" cy="111.9" r="2.55" class="b"/>
<circle cx="136.1" cy="148.7" r="2.55" class="y"/>
<circle cx="95.7" cy="198.5" r="2.55" class="b"/>
<circle cx="203.5" cy="95.4" r="2.55" class="b"/>
<circle cx="192.0" cy="114.4" r="2.55" class="b"/>
<circle cx="107.0" cy="175.3" r="2.55" class="b"/>
<circle cx="102.9" cy="200.4" r="2.55" class="b"/>
<circle cx="72.2" cy="226.0" r="2.55" class="b"/>
<circle cx="136.7" cy="144.5" r="2.55" class="b"/>
<circle cx="200.5" cy="102.7" r="2.55" class="y"/>
<circle cx="129.5" cy="189.2" r="2.55" class="b"/>
<circle cx="102.7" cy="178.4" r="2.55" class="y"/>
<circle cx="73.7" cy="231.0" r="2.55" class="b"/>
<circle cx="165.8" cy="153.4" r="2.55" class="b"/>
<circle cx="87.6" cy="198.4" r="2.55" class="y"/>
<circle cx="178.1" cy="127.0" r="2.55" class="b"/>
<circle cx="93.0" cy="204.4" r="2.55" class="b"/>
<circle cx="177.7" cy="113.6" r="2.55" class="b"/>
<circle cx="165.2" cy="142.4" r="2.55" class="b"/>
<circle cx="129.6" cy="165.4" r="2.55" class="b"/>
<circle cx="138.3" cy="180.5" r="2.55" class="b"/>
<circle cx="189.6" cy="119.8" r="2.55" class="b"/>
<circle cx="165.7" cy="139.3" r="2.55" class="y"/>
<circle cx="148.6" cy="168.1" r="2.55" class="b"/>
<circle cx="126.8" cy="192.7" r="2.55" class="b"/>
<circle cx="106.3" cy="187.6" r="2.55" class="b"/>
<circle cx="110.3" cy="208.4" r="2.55" class="y"/>
<circle cx="172.8" cy="113.4" r="2.55" class="y"/>
<circle cx="209.5" cy="106.1" r="2.55" class="b"/>
<circle cx="118.0" cy="180.0" r="2.55" class="b"/>
<circle cx="142.7" cy="128.7" r="2.55" class="y"/>
<circle cx="168.5" cy="131.9" r="2.55" class="b"/>
<circle cx="160.6" cy="152.9" r="2.55" class="b"/>
<circle cx="145.1" cy="148.4" r="2.55" class="y"/>
<circle cx="129.4" cy="169.6" r="2.55" class="b"/>
<circle cx="143.1" cy="170.2" r="2.55" class="b"/>
<circle cx="116.2" cy="196.5" r="2.55" class="b"/>
<circle cx="211.6" cy="94.3" r="2.55" class="b"/>
<circle cx="110.4" cy="204.7" r="2.55" class="b"/>
<circle cx="147.9" cy="148.1" r="2.55" class="b"/>
<circle cx="64.9" cy="230.0" r="2.55" class="y"/>
<circle cx="73.8" cy="209.8" r="2.55" class="b"/>
<circle cx="87.1" cy="214.9" r="2.55" class="b"/>
<circle cx="139.0" cy="171.1" r="2.55" class="b"/>
<circle cx="180.4" cy="127.1" r="2.55" class="b"/>
<circle cx="135.1" cy="168.3" r="2.55" class="b"/>
<circle cx="174.5" cy="136.9" r="2.55" class="b"/>
</g>
<path d="M35.65 8.42V272.01H299.24" fill="none" stroke="#3c3c3c" stroke-width="1.2"/>
<line x1="74.26" y1="272.01" x2="74.26" y2="275.81" stroke="#2a2a2a" stroke-width="1.2"/>
<text x="74.26" y="284.91" text-anchor="middle" class="tk">0</text>
<line x1="127.51" y1="272.01" x2="127.51" y2="275.81" stroke="#2a2a2a" stroke-width="1.2"/>
<text x="127.51" y="284.91" text-anchor="middle" class="tk">2</text>
<line x1="180.76" y1="272.01" x2="180.76" y2="275.81" stroke="#2a2a2a" stroke-width="1.2"/>
<text x="180.76" y="284.91" text-anchor="middle" class="tk">4</text>
<line x1="234.01" y1="272.01" x2="234.01" y2="275.81" stroke="#2a2a2a" stroke-width="1.2"/>
<text x="234.01" y="284.91" text-anchor="middle" class="tk">6</text>
<line x1="287.26" y1="272.01" x2="287.26" y2="275.81" stroke="#2a2a2a" stroke-width="1.2"/>
<text x="287.26" y="284.91" text-anchor="middle" class="tk">8</text>
<line x1="31.85" y1="233.40" x2="35.65" y2="233.40" stroke="#2a2a2a" stroke-width="1.2"/>
<text x="30.15" y="237.15" text-anchor="end" class="tk">0</text>
<line x1="31.85" y1="180.15" x2="35.65" y2="180.15" stroke="#2a2a2a" stroke-width="1.2"/>
<text x="30.15" y="183.90" text-anchor="end" class="tk">2</text>
<line x1="31.85" y1="126.90" x2="35.65" y2="126.90" stroke="#2a2a2a" stroke-width="1.2"/>
<text x="30.15" y="130.65" text-anchor="end" class="tk">4</text>
<line x1="31.85" y1="73.65" x2="35.65" y2="73.65" stroke="#2a2a2a" stroke-width="1.2"/>
<text x="30.15" y="77.40" text-anchor="end" class="tk">6</text>
<line x1="31.85" y1="20.40" x2="35.65" y2="20.40" stroke="#2a2a2a" stroke-width="1.2"/>
<text x="30.15" y="24.15" text-anchor="end" class="tk">8</text>
<line x1="398.90" y1="270.40" x2="659.02" y2="10.28" stroke="#555" stroke-width="1.1"/>
<g>
<circle cx="473.8" cy="199.0" r="2.55" class="b"/>
<circle cx="578.6" cy="95.9" r="2.55" class="b"/>
<circle cx="527.5" cy="128.6" r="2.55" class="b"/>
<circle cx="572.8" cy="98.8" r="2.55" class="b"/>
<circle cx="499.5" cy="185.0" r="2.55" class="b"/>
<circle cx="564.0" cy="108.9" r="2.55" class="y"/>
<circle cx="562.8" cy="126.3" r="2.55" class="y"/>
<circle cx="490.8" cy="179.0" r="2.55" class="b"/>
<circle cx="479.2" cy="181.7" r="2.55" class="b"/>
<circle cx="436.4" cy="202.1" r="2.55" class="b"/>
<circle cx="520.2" cy="154.2" r="2.55" class="b"/>
<circle cx="470.6" cy="201.4" r="2.55" class="b"/>
<circle cx="494.0" cy="164.7" r="2.55" class="b"/>
<circle cx="563.1" cy="106.6" r="2.55" class="b"/>
<circle cx="575.2" cy="101.2" r="2.55" class="b"/>
<circle cx="495.7" cy="176.8" r="2.55" class="y"/>
<circle cx="492.6" cy="168.0" r="2.55" class="b"/>
<circle cx="541.6" cy="131.3" r="2.55" class="b"/>
<circle cx="521.4" cy="134.2" r="2.55" class="b"/>
<circle cx="581.1" cy="96.3" r="2.55" class="b"/>
<circle cx="492.0" cy="176.7" r="2.55" class="b"/>
<circle cx="510.3" cy="166.8" r="2.55" class="b"/>
<circle cx="534.6" cy="129.5" r="2.55" class="b"/>
<circle cx="499.2" cy="154.3" r="2.55" class="b"/>
<circle cx="537.4" cy="156.4" r="2.55" class="y"/>
<circle cx="531.4" cy="139.2" r="2.55" class="b"/>
<circle cx="533.4" cy="133.7" r="2.55" class="b"/>
<circle cx="489.2" cy="176.1" r="2.55" class="b"/>
<circle cx="477.7" cy="191.7" r="2.55" class="b"/>
<circle cx="570.3" cy="101.7" r="2.55" class="b"/>
<circle cx="586.8" cy="85.2" r="2.55" class="b"/>
<circle cx="518.3" cy="125.3" r="2.55" class="y"/>
<circle cx="493.9" cy="156.3" r="2.55" class="y"/>
<circle cx="521.1" cy="143.0" r="2.55" class="b"/>
<circle cx="508.0" cy="176.4" r="2.55" class="y"/>
<circle cx="509.1" cy="155.9" r="2.55" class="b"/>
<circle cx="478.3" cy="199.0" r="2.55" class="b"/>
<circle cx="467.3" cy="200.2" r="2.55" class="b"/>
<circle cx="556.6" cy="122.7" r="2.55" class="b"/>
<circle cx="507.6" cy="163.5" r="2.55" class="b"/>
<circle cx="446.2" cy="208.0" r="2.55" class="b"/>
<circle cx="539.2" cy="134.0" r="2.55" class="b"/>
<circle cx="553.1" cy="109.6" r="2.55" class="b"/>
<circle cx="585.2" cy="91.2" r="2.55" class="b"/>
<circle cx="515.7" cy="133.8" r="2.55" class="y"/>
<circle cx="487.7" cy="168.9" r="2.55" class="b"/>
<circle cx="420.4" cy="233.8" r="2.55" class="b"/>
<circle cx="516.8" cy="137.3" r="2.55" class="b"/>
<circle cx="520.9" cy="147.8" r="2.55" class="b"/>
<circle cx="470.6" cy="195.1" r="2.55" class="b"/>
<circle cx="502.3" cy="174.0" r="2.55" class="b"/>
<circle cx="473.7" cy="189.8" r="2.55" class="b"/>
<circle cx="569.4" cy="98.2" r="2.55" class="b"/>
<circle cx="530.4" cy="141.7" r="2.55" class="b"/>
<circle cx="492.2" cy="161.3" r="2.55" class="b"/>
<circle cx="525.1" cy="143.9" r="2.55" class="b"/>
<circle cx="503.4" cy="166.5" r="2.55" class="b"/>
<circle cx="486.8" cy="171.4" r="2.55" class="b"/>
<circle cx="472.0" cy="192.8" r="2.55" class="b"/>
<circle cx="450.6" cy="195.4" r="2.55" class="b"/>
<circle cx="541.3" cy="123.4" r="2.55" class="b"/>
<circle cx="528.0" cy="153.7" r="2.55" class="b"/>
<circle cx="559.5" cy="121.2" r="2.55" class="b"/>
<circle cx="537.8" cy="147.0" r="2.55" class="b"/>
<circle cx="488.8" cy="163.4" r="2.55" class="y"/>
<circle cx="530.7" cy="125.9" r="2.55" class="b"/>
<circle cx="582.4" cy="87.0" r="2.55" class="b"/>
<circle cx="496.1" cy="161.1" r="2.55" class="b"/>
<circle cx="617.9" cy="55.8" r="2.55" class="b"/>
<circle cx="598.4" cy="70.1" r="2.55" class="b"/>
<circle cx="547.3" cy="127.3" r="2.55" class="b"/>
<circle cx="523.8" cy="139.1" r="2.55" class="b"/>
<circle cx="567.7" cy="101.9" r="2.55" class="b"/>
<circle cx="539.3" cy="128.8" r="2.55" class="b"/>
<circle cx="552.1" cy="102.7" r="2.55" class="y"/>
<circle cx="528.1" cy="122.8" r="2.55" class="y"/>
<circle cx="431.0" cy="234.7" r="2.55" class="b"/>
<circle cx="555.7" cy="98.0" r="2.55" class="b"/>
<circle cx="463.1" cy="198.1" r="2.55" class="b"/>
<circle cx="571.7" cy="112.6" r="2.55" class="y"/>
<circle cx="546.4" cy="110.9" r="2.55" class="b"/>
<circle cx="417.7" cy="237.4" r="2.55" class="b"/>
<circle cx="548.5" cy="118.6" r="2.55" class="b"/>
<circle cx="543.2" cy="128.2" r="2.55" class="b"/>
<circle cx="487.2" cy="213.8" r="2.55" class="b"/>
<circle cx="517.2" cy="140.9" r="2.55" class="b"/>
<circle cx="499.6" cy="176.4" r="2.55" class="b"/>
<circle cx="417.7" cy="228.1" r="2.55" class="b"/>
<circle cx="548.5" cy="114.8" r="2.55" class="b"/>
<circle cx="519.7" cy="141.1" r="2.55" class="b"/>
<circle cx="556.6" cy="133.8" r="2.55" class="y"/>
<circle cx="601.9" cy="65.6" r="2.55" class="b"/>
<circle cx="523.7" cy="122.8" r="2.55" class="y"/>
<circle cx="567.3" cy="99.6" r="2.55" class="b"/>
<circle cx="486.2" cy="176.2" r="2.55" class="b"/>
<circle cx="499.0" cy="180.6" r="2.55" class="b"/>
<circle cx="488.0" cy="147.6" r="2.55" class="b"/>
<circle cx="538.8" cy="109.8" r="2.55" class="y"/>
<circle cx="496.4" cy="166.6" r="2.55" class="b"/>
<circle cx="510.8" cy="158.7" r="2.55" class="b"/>
<circle cx="493.4" cy="198.1" r="2.55" class="b"/>
<circle cx="564.8" cy="115.7" r="2.55" class="b"/>
<circle cx="410.6" cy="228.8" r="2.55" class="b"/>
<circle cx="525.6" cy="141.5" r="2.55" class="b"/>
<circle cx="475.1" cy="192.0" r="2.55" class="b"/>
<circle cx="513.9" cy="140.1" r="2.55" class="y"/>
<circle cx="553.2" cy="137.7" r="2.55" class="b"/>
<circle cx="518.0" cy="146.6" r="2.55" class="b"/>
<circle cx="438.5" cy="197.7" r="2.55" class="b"/>
<circle cx="611.3" cy="55.3" r="2.55" class="b"/>
<circle cx="507.4" cy="157.3" r="2.55" class="b"/>
<circle cx="528.7" cy="145.0" r="2.55" class="b"/>
<circle cx="493.9" cy="178.9" r="2.55" class="b"/>
<circle cx="480.6" cy="184.3" r="2.55" class="b"/>
<circle cx="561.1" cy="104.5" r="2.55" class="b"/>
<circle cx="460.1" cy="199.6" r="2.55" class="b"/>
<circle cx="510.1" cy="135.7" r="2.55" class="b"/>
<circle cx="483.5" cy="174.7" r="2.55" class="b"/>
<circle cx="575.2" cy="98.6" r="2.55" class="y"/>
<circle cx="514.7" cy="143.0" r="2.55" class="b"/>
<circle cx="457.7" cy="192.7" r="2.55" class="b"/>
<circle cx="539.2" cy="126.6" r="2.55" class="y"/>
<circle cx="508.0" cy="169.6" r="2.55" class="y"/>
<circle cx="501.7" cy="159.7" r="2.55" class="b"/>
<circle cx="556.8" cy="116.4" r="2.55" class="b"/>
<circle cx="613.5" cy="62.9" r="2.55" class="b"/>
<circle cx="559.2" cy="125.1" r="2.55" class="y"/>
<circle cx="423.6" cy="198.4" r="2.55" class="b"/>
<circle cx="452.0" cy="219.9" r="2.55" class="b"/>
<circle cx="493.3" cy="185.6" r="2.55" class="y"/>
<circle cx="570.2" cy="106.6" r="2.55" class="b"/>
<circle cx="508.8" cy="152.2" r="2.55" class="b"/>
<circle cx="501.1" cy="166.5" r="2.55" class="b"/>
<circle cx="578.9" cy="101.7" r="2.55" class="b"/>
<circle cx="458.7" cy="201.7" r="2.55" class="b"/>
<circle cx="547.2" cy="143.6" r="2.55" class="y"/>
<circle cx="502.2" cy="163.2" r="2.55" class="b"/>
<circle cx="516.0" cy="153.6" r="2.55" class="b"/>
<circle cx="484.4" cy="172.3" r="2.55" class="b"/>
<circle cx="550.7" cy="116.8" r="2.55" class="y"/>
<circle cx="574.6" cy="94.7" r="2.55" class="b"/>
<circle cx="511.2" cy="148.5" r="2.55" class="y"/>
<circle cx="478.2" cy="189.0" r="2.55" class="b"/>
<circle cx="488.4" cy="190.8" r="2.55" class="b"/>
<circle cx="552.5" cy="119.2" r="2.55" class="b"/>
<circle cx="440.8" cy="234.2" r="2.55" class="b"/>
<circle cx="512.7" cy="151.6" r="2.55" class="b"/>
<circle cx="620.6" cy="54.9" r="2.55" class="b"/>
<circle cx="545.1" cy="126.6" r="2.55" class="b"/>
<circle cx="428.9" cy="192.7" r="2.55" class="b"/>
<circle cx="436.4" cy="227.1" r="2.55" class="b"/>
<circle cx="485.1" cy="165.4" r="2.55" class="b"/>
<circle cx="430.7" cy="221.4" r="2.55" class="b"/>
<circle cx="486.3" cy="204.4" r="2.55" class="b"/>
<circle cx="505.0" cy="156.0" r="2.55" class="b"/>
<circle cx="439.6" cy="237.0" r="2.55" class="b"/>
<circle cx="506.1" cy="161.6" r="2.55" class="b"/>
<circle cx="484.7" cy="168.7" r="2.55" class="b"/>
<circle cx="617.0" cy="57.6" r="2.55" class="b"/>
<circle cx="559.6" cy="112.7" r="2.55" class="b"/>
<circle cx="551.5" cy="112.6" r="2.55" class="b"/>
<circle cx="468.6" cy="191.6" r="2.55" class="b"/>
<circle cx="423.0" cy="239.2" r="2.55" class="b"/>
<circle cx="556.0" cy="108.7" r="2.55" class="b"/>
<circle cx="546.0" cy="141.8" r="2.55" class="y"/>
<circle cx="514.0" cy="155.4" r="2.55" class="b"/>
<circle cx="488.1" cy="180.7" r="2.55" class="b"/>
<circle cx="475.6" cy="208.8" r="2.55" class="b"/>
<circle cx="529.6" cy="135.1" r="2.55" class="b"/>
<circle cx="552.1" cy="128.6" r="2.55" class="y"/>
<circle cx="549.4" cy="136.4" r="2.55" class="b"/>
<circle cx="533.5" cy="114.2" r="2.55" class="y"/>
<circle cx="473.9" cy="185.3" r="2.55" class="b"/>
<circle cx="576.3" cy="104.2" r="2.55" class="b"/>
<circle cx="506.3" cy="150.3" r="2.55" class="b"/>
<circle cx="503.9" cy="152.4" r="2.55" class="b"/>
<circle cx="573.5" cy="108.1" r="2.55" class="y"/>
<circle cx="483.6" cy="189.0" r="2.55" class="b"/>
<circle cx="464.0" cy="217.7" r="2.55" class="b"/>
<circle cx="527.3" cy="132.9" r="2.55" class="y"/>
<circle cx="454.2" cy="202.6" r="2.55" class="b"/>
<circle cx="494.0" cy="174.1" r="2.55" class="b"/>
<circle cx="530.1" cy="132.4" r="2.55" class="b"/>
<circle cx="466.3" cy="192.8" r="2.55" class="b"/>
<circle cx="466.7" cy="209.7" r="2.55" class="b"/>
<circle cx="567.0" cy="93.1" r="2.55" class="b"/>
<circle cx="481.0" cy="188.6" r="2.55" class="b"/>
<circle cx="448.8" cy="193.6" r="2.55" class="b"/>
<circle cx="454.2" cy="202.7" r="2.55" class="b"/>
<circle cx="489.2" cy="173.2" r="2.55" class="b"/>
<circle cx="492.8" cy="171.1" r="2.55" class="b"/>
<circle cx="450.6" cy="217.4" r="2.55" class="b"/>
<circle cx="550.4" cy="123.0" r="2.55" class="b"/>
<circle cx="468.4" cy="194.7" r="2.55" class="b"/>
<circle cx="484.3" cy="180.8" r="2.55" class="y"/>
<circle cx="537.2" cy="137.1" r="2.55" class="b"/>
<circle cx="559.0" cy="110.2" r="2.55" class="b"/>
<circle cx="520.5" cy="145.3" r="2.55" class="b"/>
<circle cx="456.9" cy="209.8" r="2.55" class="b"/>
<circle cx="496.3" cy="171.4" r="2.55" class="y"/>
<circle cx="478.1" cy="167.8" r="2.55" class="b"/>
<circle cx="490.0" cy="170.4" r="2.55" class="b"/>
<circle cx="549.1" cy="121.2" r="2.55" class="b"/>
<circle cx="553.8" cy="117.4" r="2.55" class="b"/>
<circle cx="520.3" cy="138.1" r="2.55" class="b"/>
<circle cx="529.0" cy="139.9" r="2.55" class="b"/>
<circle cx="541.6" cy="125.7" r="2.55" class="b"/>
<circle cx="606.4" cy="64.7" r="2.55" class="b"/>
<circle cx="501.0" cy="168.8" r="2.55" class="b"/>
<circle cx="440.3" cy="226.3" r="2.55" class="b"/>
<circle cx="538.3" cy="141.2" r="2.55" class="b"/>
<circle cx="468.5" cy="205.3" r="2.55" class="b"/>
<circle cx="495.0" cy="168.7" r="2.55" class="b"/>
<circle cx="517.6" cy="156.4" r="2.55" class="b"/>
<circle cx="514.6" cy="161.9" r="2.55" class="b"/>
<circle cx="453.3" cy="214.2" r="2.55" class="b"/>
<circle cx="444.4" cy="204.5" r="2.55" class="b"/>
<circle cx="462.3" cy="207.0" r="2.55" class="b"/>
<circle cx="562.2" cy="98.9" r="2.55" class="b"/>
<circle cx="462.3" cy="192.4" r="2.55" class="b"/>
<circle cx="586.1" cy="95.3" r="2.55" class="b"/>
<circle cx="571.3" cy="94.9" r="2.55" class="b"/>
<circle cx="522.5" cy="136.6" r="2.55" class="b"/>
<circle cx="486.2" cy="157.1" r="2.55" class="y"/>
<circle cx="495.4" cy="181.1" r="2.55" class="b"/>
<circle cx="527.8" cy="137.6" r="2.55" class="b"/>
<circle cx="491.8" cy="173.9" r="2.55" class="b"/>
<circle cx="504.8" cy="163.8" r="2.55" class="b"/>
<circle cx="497.7" cy="201.6" r="2.55" class="b"/>
<circle cx="546.6" cy="117.1" r="2.55" class="y"/>
<circle cx="476.1" cy="186.8" r="2.55" class="b"/>
<circle cx="524.4" cy="154.2" r="2.55" class="b"/>
<circle cx="587.7" cy="85.3" r="2.55" class="b"/>
<circle cx="533.6" cy="126.8" r="2.55" class="b"/>
<circle cx="589.5" cy="85.2" r="2.55" class="b"/>
<circle cx="561.9" cy="111.7" r="2.55" class="b"/>
<circle cx="505.9" cy="159.2" r="2.55" class="b"/>
<circle cx="444.4" cy="216.4" r="2.55" class="b"/>
<circle cx="464.9" cy="199.9" r="2.55" class="b"/>
<circle cx="513.8" cy="174.4" r="2.55" class="b"/>
<circle cx="491.0" cy="165.5" r="2.55" class="b"/>
<circle cx="501.4" cy="156.2" r="2.55" class="b"/>
<circle cx="523.7" cy="159.9" r="2.55" class="b"/>
<circle cx="482.4" cy="170.7" r="2.55" class="b"/>
<circle cx="568.1" cy="88.8" r="2.55" class="b"/>
<circle cx="456.3" cy="196.6" r="2.55" class="b"/>
<circle cx="527.7" cy="142.4" r="2.55" class="b"/>
<circle cx="475.8" cy="189.2" r="2.55" class="b"/>
<circle cx="565.1" cy="111.9" r="2.55" class="b"/>
<circle cx="518.1" cy="159.2" r="2.55" class="b"/>
<circle cx="476.5" cy="201.7" r="2.55" class="b"/>
<circle cx="532.8" cy="120.3" r="2.55" class="y"/>
<circle cx="431.0" cy="205.0" r="2.55" class="b"/>
<circle cx="527.2" cy="148.5" r="2.55" class="b"/>
<circle cx="578.7" cy="93.2" r="2.55" class="b"/>
<circle cx="557.5" cy="105.3" r="2.55" class="y"/>
<circle cx="508.1" cy="160.1" r="2.55" class="b"/>
<circle cx="472.0" cy="196.9" r="2.55" class="b"/>
<circle cx="478.0" cy="172.8" r="2.55" class="b"/>
<circle cx="453.4" cy="215.1" r="2.55" class="b"/>
<circle cx="546.2" cy="106.0" r="2.55" class="b"/>
<circle cx="500.4" cy="197.2" r="2.55" class="y"/>
<circle cx="585.3" cy="88.3" r="2.55" class="b"/>
<circle cx="488.9" cy="159.2" r="2.55" class="y"/>
<circle cx="590.4" cy="87.0" r="2.55" class="b"/>
<circle cx="536.7" cy="130.3" r="2.55" class="b"/>
<circle cx="514.4" cy="145.7" r="2.55" class="b"/>
<circle cx="561.9" cy="130.4" r="2.55" class="b"/>
<circle cx="545.1" cy="137.9" r="2.55" class="y"/>
<circle cx="503.9" cy="160.9" r="2.55" class="b"/>
<circle cx="551.1" cy="132.9" r="2.55" class="b"/>
<circle cx="428.9" cy="226.3" r="2.55" class="b"/>
<circle cx="482.6" cy="185.6" r="2.55" class="y"/>
<circle cx="558.3" cy="119.2" r="2.55" class="b"/>
<circle cx="555.1" cy="120.1" r="2.55" class="b"/>
<circle cx="510.7" cy="162.8" r="2.55" class="y"/>
<circle cx="572.8" cy="101.7" r="2.55" class="b"/>
<circle cx="613.1" cy="57.6" r="2.55" class="b"/>
<circle cx="489.3" cy="187.2" r="2.55" class="b"/>
<circle cx="498.6" cy="163.9" r="2.55" class="b"/>
<circle cx="518.9" cy="143.7" r="2.55" class="b"/>
<circle cx="464.4" cy="195.9" r="2.55" class="b"/>
<circle cx="568.2" cy="104.2" r="2.55" class="b"/>
<circle cx="426.6" cy="234.7" r="2.55" class="b"/>
<circle cx="506.8" cy="142.7" r="2.55" class="y"/>
<circle cx="505.4" cy="180.8" r="2.55" class="b"/>
<circle cx="558.4" cy="124.9" r="2.55" class="y"/>
<circle cx="536.8" cy="127.9" r="2.55" class="b"/>
<circle cx="590.3" cy="70.6" r="2.55" class="b"/>
<circle cx="512.8" cy="157.7" r="2.55" class="b"/>
<circle cx="505.7" cy="173.0" r="2.55" class="b"/>
<circle cx="466.2" cy="197.7" r="2.55" class="b"/>
<circle cx="567.9" cy="110.8" r="2.55" class="b"/>
<circle cx="588.6" cy="88.8" r="2.55" class="b"/>
<circle cx="559.0" cy="101.6" r="2.55" class="b"/>
<circle cx="422.1" cy="222.8" r="2.55" class="b"/>
<circle cx="495.1" cy="143.1" r="2.55" class="y"/>
<circle cx="513.7" cy="192.7" r="2.55" class="b"/>
<circle cx="467.6" cy="215.6" r="2.55" class="b"/>
<circle cx="487.0" cy="174.0" r="2.55" class="y"/>
<circle cx="600.1" cy="64.7" r="2.55" class="b"/>
<circle cx="470.9" cy="190.2" r="2.55" class="b"/>
<circle cx="592.5" cy="59.9" r="2.55" class="b"/>
<circle cx="456.4" cy="198.1" r="2.55" class="b"/>
<circle cx="433.7" cy="219.6" r="2.55" class="b"/>
<circle cx="577.9" cy="87.0" r="2.55" class="b"/>
<circle cx="498.9" cy="169.7" r="2.55" class="b"/>
<circle cx="477.5" cy="179.1" r="2.55" class="b"/>
<circle cx="536.3" cy="120.0" r="2.55" class="b"/>
<circle cx="480.8" cy="191.8" r="2.55" class="y"/>
<circle cx="479.9" cy="176.7" r="2.55" class="y"/>
<circle cx="532.7" cy="151.3" r="2.55" class="y"/>
<circle cx="532.5" cy="136.9" r="2.55" class="b"/>
<circle cx="561.2" cy="93.5" r="2.55" class="b"/>
<circle cx="485.3" cy="156.5" r="2.55" class="y"/>
<circle cx="563.8" cy="122.3" r="2.55" class="y"/>
<circle cx="577.7" cy="90.7" r="2.55" class="b"/>
<circle cx="525.5" cy="146.4" r="2.55" class="b"/>
<circle cx="563.7" cy="121.5" r="2.55" class="y"/>
<circle cx="560.9" cy="108.1" r="2.55" class="b"/>
<circle cx="523.0" cy="150.0" r="2.55" class="b"/>
<circle cx="603.7" cy="56.7" r="2.55" class="b"/>
<circle cx="502.3" cy="171.3" r="2.55" class="b"/>
<circle cx="547.1" cy="130.1" r="2.55" class="b"/>
<circle cx="457.8" cy="193.7" r="2.55" class="b"/>
<circle cx="581.3" cy="98.6" r="2.55" class="b"/>
<circle cx="518.4" cy="124.9" r="2.55" class="y"/>
<circle cx="488.7" cy="183.7" r="2.55" class="b"/>
<circle cx="512.0" cy="207.0" r="2.55" class="b"/>
<circle cx="487.4" cy="178.2" r="2.55" class="b"/>
<circle cx="456.0" cy="216.9" r="2.55" class="b"/>
<circle cx="512.4" cy="153.9" r="2.55" class="b"/>
<circle cx="523.1" cy="130.6" r="2.55" class="b"/>
<circle cx="477.8" cy="185.1" r="2.55" class="b"/>
<circle cx="537.0" cy="152.1" r="2.55" class="y"/>
<circle cx="555.9" cy="126.9" r="2.55" class="b"/>
<circle cx="534.6" cy="145.6" r="2.55" class="b"/>
<circle cx="474.7" cy="180.4" r="2.55" class="b"/>
<circle cx="511.2" cy="144.7" r="2.55" class="b"/>
<circle cx="508.6" cy="148.1" r="2.55" class="y"/>
<circle cx="594.3" cy="66.5" r="2.55" class="b"/>
<circle cx="516.8" cy="151.3" r="2.55" class="y"/>
<circle cx="534.9" cy="138.3" r="2.55" class="b"/>
<circle cx="506.3" cy="153.6" r="2.55" class="b"/>
<circle cx="505.9" cy="166.1" r="2.55" class="b"/>
<circle cx="511.6" cy="169.7" r="2.55" class="b"/>
<circle cx="566.2" cy="105.7" r="2.55" class="b"/>
<circle cx="552.3" cy="121.4" r="2.55" class="b"/>
<circle cx="515.7" cy="148.6" r="2.55" class="b"/>
<circle cx="559.6" cy="116.7" r="2.55" class="b"/>
<circle cx="536.8" cy="124.5" r="2.55" class="b"/>
<circle cx="618.8" cy="64.2" r="2.55" class="b"/>
<circle cx="583.8" cy="93.1" r="2.55" class="b"/>
<circle cx="581.5" cy="93.2" r="2.55" class="b"/>
<circle cx="542.4" cy="134.2" r="2.55" class="b"/>
<circle cx="544.6" cy="124.4" r="2.55" class="b"/>
<circle cx="518.8" cy="148.8" r="2.55" class="y"/>
<circle cx="542.3" cy="119.6" r="2.55" class="b"/>
<circle cx="501.6" cy="149.7" r="2.55" class="b"/>
<circle cx="504.4" cy="169.3" r="2.55" class="b"/>
<circle cx="588.6" cy="89.7" r="2.55" class="b"/>
<circle cx="552.4" cy="124.3" r="2.55" class="b"/>
<circle cx="468.8" cy="185.3" r="2.55" class="b"/>
<circle cx="580.6" cy="119.2" r="2.55" class="y"/>
<circle cx="539.8" cy="120.8" r="2.55" class="b"/>
<circle cx="514.2" cy="193.1" r="2.55" class="b"/>
<circle cx="499.5" cy="161.0" r="2.55" class="y"/>
<circle cx="526.4" cy="139.5" r="2.55" class="b"/>
<circle cx="545.6" cy="120.9" r="2.55" class="b"/>
<circle cx="566.3" cy="97.0" r="2.55" class="b"/>
<circle cx="522.8" cy="144.5" r="2.55" class="b"/>
<circle cx="498.4" cy="167.5" r="2.55" class="b"/>
<circle cx="547.7" cy="132.9" r="2.55" class="y"/>
<circle cx="476.4" cy="182.6" r="2.55" class="b"/>
<circle cx="480.3" cy="179.1" r="2.55" class="b"/>
<circle cx="540.4" cy="137.8" r="2.55" class="y"/>
<circle cx="464.9" cy="202.6" r="2.55" class="b"/>
<circle cx="562.2" cy="118.8" r="2.55" class="b"/>
<circle cx="597.5" cy="64.2" r="2.55" class="b"/>
<circle cx="463.1" cy="182.5" r="2.55" class="b"/>
<circle cx="555.2" cy="111.4" r="2.55" class="b"/>
<circle cx="544.4" cy="130.7" r="2.55" class="b"/>
<circle cx="531.3" cy="146.0" r="2.55" class="b"/>
<circle cx="485.5" cy="196.3" r="2.55" class="b"/>
<circle cx="477.9" cy="194.9" r="2.55" class="b"/>
<circle cx="492.3" cy="182.5" r="2.55" class="b"/>
<circle cx="510.2" cy="163.4" r="2.55" class="y"/>
<circle cx="536.7" cy="132.9" r="2.55" class="b"/>
<circle cx="503.7" cy="158.3" r="2.55" class="y"/>
<circle cx="515.1" cy="158.5" r="2.55" class="b"/>
<circle cx="547.7" cy="123.3" r="2.55" class="y"/>
<circle cx="562.8" cy="113.8" r="2.55" class="b"/>
<circle cx="549.5" cy="128.9" r="2.55" class="b"/>
<circle cx="520.7" cy="151.0" r="2.55" class="b"/>
<circle cx="564.3" cy="104.1" r="2.55" class="b"/>
<circle cx="557.2" cy="112.5" r="2.55" class="b"/>
<circle cx="523.1" cy="146.9" r="2.55" class="b"/>
<circle cx="457.7" cy="203.6" r="2.55" class="b"/>
<circle cx="468.5" cy="197.3" r="2.55" class="b"/>
<circle cx="473.7" cy="176.7" r="2.55" class="b"/>
<circle cx="537.7" cy="116.2" r="2.55" class="b"/>
<circle cx="573.5" cy="91.5" r="2.55" class="b"/>
<circle cx="582.6" cy="90.3" r="2.55" class="b"/>
<circle cx="571.9" cy="104.6" r="2.55" class="b"/>
<circle cx="550.4" cy="106.5" r="2.55" class="b"/>
<circle cx="539.2" cy="131.3" r="2.55" class="b"/>
<circle cx="542.4" cy="112.8" r="2.55" class="y"/>
<circle cx="565.0" cy="101.5" r="2.55" class="b"/>
<circle cx="475.1" cy="196.2" r="2.55" class="b"/>
<circle cx="549.5" cy="126.2" r="2.55" class="y"/>
<circle cx="483.0" cy="177.7" r="2.55" class="b"/>
<circle cx="486.1" cy="185.0" r="2.55" class="y"/>
<circle cx="552.4" cy="115.0" r="2.55" class="b"/>
<circle cx="452.4" cy="228.8" r="2.55" class="b"/>
<circle cx="524.7" cy="135.1" r="2.55" class="y"/>
<circle cx="533.8" cy="141.0" r="2.55" class="b"/>
<circle cx="498.8" cy="172.9" r="2.55" class="b"/>
<circle cx="531.1" cy="129.4" r="2.55" class="b"/>
<circle cx="577.5" cy="98.1" r="2.55" class="b"/>
<circle cx="497.8" cy="157.5" r="2.55" class="b"/>
<circle cx="543.3" cy="116.9" r="2.55" class="y"/>
<circle cx="523.2" cy="141.8" r="2.55" class="b"/>
<circle cx="535.5" cy="135.4" r="2.55" class="b"/>
<circle cx="481.6" cy="181.6" r="2.55" class="b"/>
<circle cx="461.4" cy="201.6" r="2.55" class="b"/>
<circle cx="516.0" cy="164.9" r="2.55" class="y"/>
<circle cx="555.7" cy="114.4" r="2.55" class="b"/>
<circle cx="567.4" cy="108.3" r="2.55" class="b"/>
<circle cx="483.7" cy="183.2" r="2.55" class="b"/>
<circle cx="513.7" cy="165.1" r="2.55" class="y"/>
</g>
<path d="M398.90 10.28V270.40H659.02" fill="none" stroke="#3c3c3c" stroke-width="1.2"/>
<line x1="440.28" y1="270.40" x2="440.28" y2="274.20" stroke="#2a2a2a" stroke-width="1.2"/>
<text x="440.28" y="283.30" text-anchor="middle" class="tk">-2</text>
<line x1="499.40" y1="270.40" x2="499.40" y2="274.20" stroke="#2a2a2a" stroke-width="1.2"/>
<text x="499.40" y="283.30" text-anchor="middle" class="tk">0</text>
<line x1="558.52" y1="270.40" x2="558.52" y2="274.20" stroke="#2a2a2a" stroke-width="1.2"/>
<text x="558.52" y="283.30" text-anchor="middle" class="tk">2</text>
<line x1="617.64" y1="270.40" x2="617.64" y2="274.20" stroke="#2a2a2a" stroke-width="1.2"/>
<text x="617.64" y="283.30" text-anchor="middle" class="tk">4</text>
<line x1="395.10" y1="229.02" x2="398.90" y2="229.02" stroke="#2a2a2a" stroke-width="1.2"/>
<text x="393.40" y="232.77" text-anchor="end" class="tk">-2</text>
<line x1="395.10" y1="169.90" x2="398.90" y2="169.90" stroke="#2a2a2a" stroke-width="1.2"/>
<text x="393.40" y="173.65" text-anchor="end" class="tk">0</text>
<line x1="395.10" y1="110.78" x2="398.90" y2="110.78" stroke="#2a2a2a" stroke-width="1.2"/>
<text x="393.40" y="114.53" text-anchor="end" class="tk">2</text>
<line x1="395.10" y1="51.66" x2="398.90" y2="51.66" stroke="#2a2a2a" stroke-width="1.2"/>
<text x="393.40" y="55.41" text-anchor="end" class="tk">4</text>
<text x="167.8" y="297" text-anchor="middle" class="ti">Measured log/<tspan font-style="italic" dx="1.3">E</tspan></text>
<text x="529.1" y="296" text-anchor="middle" class="ti">Measured log/<tspan font-style="italic" dx="1.3">E</tspan></text>
<text transform="translate(17,140) rotate(-90)" text-anchor="middle" class="ti">Predicted log/<tspan font-style="italic" dx="1.3">E</tspan></text>
<text transform="translate(377,140) rotate(-90)" text-anchor="middle" class="ti">Predicted log/<tspan font-style="italic" dx="1.3">E</tspan></text>
<text x="-0.3" y="9.6" style="font-size:16.5px;fill:#000" textLength="8.2" lengthAdjust="spacingAndGlyphs">a</text>
<text x="354" y="13.8" style="font-size:18px;fill:#000" textLength="9.4" lengthAdjust="spacingAndGlyphs">b</text>
<circle cx="110.2" cy="331.5" r="2.15" class="y"/><text x="126.2" y="334.9" class="lg" textLength="30.6" lengthAdjust="spacingAndGlyphs">Test set</text>
<circle cx="174.7" cy="331.3" r="2.15" class="b"/><text x="190.5" y="334.9" class="lg" textLength="47.4" lengthAdjust="spacingAndGlyphs">Training set</text>
<circle cx="472" cy="329.7" r="2.15" class="y"/><text x="487.6" y="333.2" class="lg" textLength="30.6" lengthAdjust="spacingAndGlyphs">Test set</text>
<circle cx="536.4" cy="329.4" r="2.15" class="b"/><text x="552.1" y="333.2" class="lg" textLength="47.4" lengthAdjust="spacingAndGlyphs">Training set</text>
</svg></body></html>
